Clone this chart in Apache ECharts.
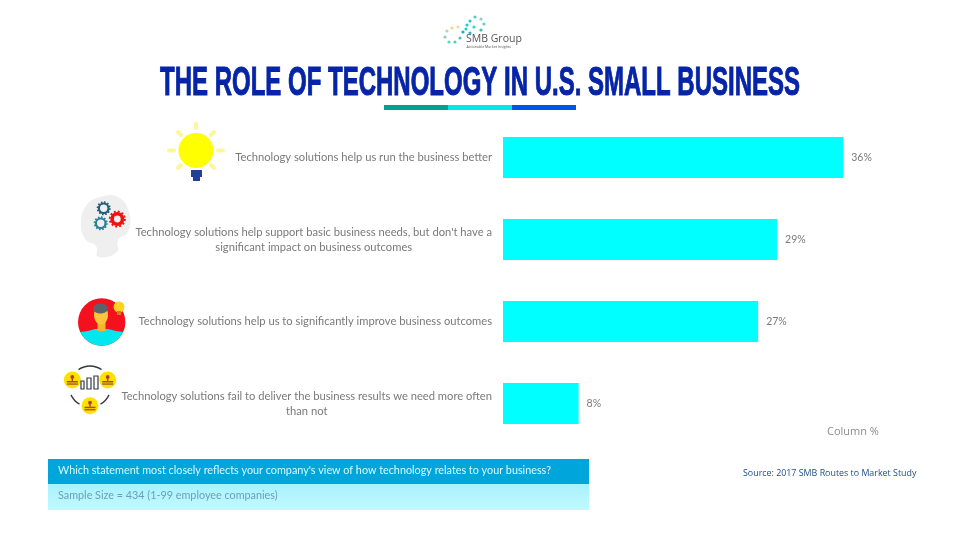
<!DOCTYPE html>
<html><head><meta charset="utf-8">
<style>html,body{margin:0;padding:0;background:#fff}#c{width:960px;height:540px}</style>
<script src="https://cdn.jsdelivr.net/npm/echarts@6/dist/echarts.min.js"></script>
</head><body><div id="c"></div>
<script>
const titleText = 'THE ROLE OF TECHNOLOGY IN U.S. SMALL BUSINESS';
const categories = [
  'Technology solutions help us run the business better',
  "Technology solutions help support basic business needs, but don't have a\nsignificant impact on business outcomes",
  'Technology solutions help us to significantly improve business outcomes',
  'Technology solutions fail to deliver the business results we need more often\nthan not'
];
const values = [36, 29, 27, 8];
const axisMax = 40;
const questionText = "Which statement most closely reflects your company's view of how technology relates to your business?";
const sampleText = 'Sample Size = 434 (1-99 employee companies)';
const sourceText = 'Source: 2017 SMB Routes to Market Study';
const columnText = 'Column %';

const chart = echarts.init(document.getElementById('c'), null, {renderer:'canvas'});
const g = [];
const circle = (cx,cy,r,fill,extra={}) => g.push({type:'circle',shape:{cx,cy,r},style:{fill,...extra},silent:true});
const ring = (cx,cy,r,stroke,lineWidth,lineDash) => g.push({type:'circle',shape:{cx,cy,r},style:{fill:'none',stroke,lineWidth,lineDash},silent:true});
const rect = (x,y,width,height,fill) => g.push({type:'rect',shape:{x,y,width,height},style:{fill},silent:true});
const line = (x1,y1,x2,y2,stroke,lineWidth) => g.push({type:'line',shape:{x1,y1,x2,y2},style:{stroke,lineWidth,lineCap:'round'},silent:true});
const arc = (cx,cy,r,a,b,stroke,lineWidth) => g.push({type:'arc',shape:{cx,cy,r,startAngle:a*Math.PI/180,endAngle:b*Math.PI/180,clockwise:true},style:{stroke,lineWidth,fill:'none'},silent:true});
const poly = (points,fill,smooth) => g.push({type:'polygon',shape:{points,smooth:smooth||0},style:{fill},silent:true});
const text = (x,y,t,font,fill,o={}) => g.push({type:'text',x,y,style:{text:t,font,fill,textAlign:o.align||'left',textVerticalAlign:'middle',stroke:o.stroke,lineWidth:o.lw||0},scaleX:o.sx||1,scaleY:o.sy||1,silent:true});

// title, squeezed to the condensed width of the original display face
const titleFont = 'bold 41px "Liberation Sans"';
const mc = document.createElement('canvas').getContext('2d');
mc.font = titleFont;
text(480,84,titleText,titleFont,'#0524a8',{align:'center',sx:640/mc.measureText(titleText).width,stroke:'#0524a8',lw:1});

// title underline
rect(384,105,64,5,'#00a096'); rect(448,105,64,5,'#00e8e8'); rect(512,105,64,5,'#0055e6');

// logo
const logoDots = [[475,17,'#55c8c8'],[481,19,'#88cccc'],[470,21,'#22cccc'],[484,24,'#66cccc'],[467,25,'#22cccc'],[481,30,'#44bbbb'],[463,32,'#22aacc'],[470,33,'#22bbcc'],[474,27,'#22dddd'],[452,28,'#dddd88'],[447,31,'#aaddaa'],[445,37,'#88ccbb'],[460,38,'#55bbcc'],[455,42,'#55ccbb'],[449,42,'#55ddbb'],[466,29,'#22cccc'],[458,27,'#eedd99']];
logoDots.forEach(d => circle(d[0],d[1],1.6,d[2]));
text(466,39,'SMB Group','10.5px "Open Sans"','#555555');
text(466.5,46.5,'Actionable Market Insights','3.6px "Open Sans"','#555555');

// bulb
[[196,124,196,128],[178,132,181,135],[214,132,211,135],[169,150.5,174,150.5],[218,150.5,223,150.5],[178,168,181,165],[214,168,211,165]].forEach(s=>line(s[0],s[1],s[2],s[3],'#fff59a',4));
circle(196,150.5,17.5,'#ffff00');
rect(191,170,11,7,'#22409a'); rect(193,177,7,4,'#22409a');

// head with gears
poly([[100,197],[118,197],[129,212],[128,232],[118,240],[117,252],[98,257],[96,246],[86,240],[81,224],[86,206]],'#efefef',0.45);
ring(103.7,208.3,4.8,'#245f78',2.2); ring(103.7,208.3,6.2,'#245f78',1.6,[1.6,1.6]);
ring(100.7,223.3,4.8,'#2f7f98',2.2); ring(100.7,223.3,6.2,'#2f7f98',1.6,[1.6,1.6]);
ring(117.3,219,5.2,'#ee1111',3.6); ring(117.3,219,7.6,'#ee1111',1.8,[2,2]);

// person
circle(101.7,322,23.7,'#f5101e');
{
  const pts=[]; for(let a=25;a<=155;a+=10){pts.push([101.7+23.7*Math.cos(a*Math.PI/180),322+23.7*Math.sin(a*Math.PI/180)]);}
  pts.push([88,331],[95,329],[108,329],[116,331]);
  poly(pts,'#00e8ee');
}
rect(97.5,322,8,9,'#f5b52e');
g.push({type:'ellipse',shape:{cx:101,cy:315,rx:7,ry:9.5},style:{fill:'#fcc53a'},silent:true});
g.push({type:'ellipse',shape:{cx:100.5,cy:308.5,rx:7.5,ry:5},style:{fill:'#5d6169'},silent:true});
circle(119,307,5.5,'#ffd21f'); rect(117,311,4,4,'#d97a1a');

// stamps icon
arc(90,386,20,-125,-55,'#333a44',1.3);
arc(90,386,21,25,60,'#333a44',1.3);
arc(90,386,21,120,155,'#333a44',1.3);
[[72.3,380],[107.7,380],[90,405.7]].forEach(p=>{
  circle(p[0],p[1],8.5,'#ffe100');
  circle(p[0],p[1]-3,1.9,'#c0392b');
  rect(p[0]-.7,p[1]-2,1.4,3,'#c0392b');
  rect(p[0]-5.5,p[1]+1,11,1.5,'#a0521a');
  rect(p[0]-5.5,p[1]+3.4,11,1.3,'#a0521a');
});
[[81,381,3,8],[87,378,4,11],[94,376,4,13]].forEach(b=>g.push({type:'rect',shape:{x:b[0],y:b[1],width:b[2],height:b[3]},style:{fill:'none',stroke:'#333a44',lineWidth:1.2},silent:true}));

// footer bands
rect(48,459,541,25,'#00a5dc');
g.push({type:'rect',shape:{x:48,y:484,width:541,height:26},style:{fill:new echarts.graphic.LinearGradient(0,0,0,1,[{offset:0,color:'#a6f3ff'},{offset:1,color:'#c4f8ff'}])},silent:true});
text(58,471,questionText,'10.8px Lato','#d8fbff');
text(58,495.5,sampleText,'10.8px Lato','#6e9fb4');
text(743,473.5,sourceText,'8.9px "Open Sans"','#1c4c8c');
text(827,432,columnText,'11px "Open Sans"','#8c8c8c');

const option = {
  animation:false,
  backgroundColor:'#ffffff',
  grid:{left:503,top:116.5,width:378,height:328,containLabel:false},
  xAxis:{type:'value',min:0,max:axisMax,show:false},
  yAxis:{type:'category',inverse:true,data:categories,
    axisLine:{show:false},axisTick:{show:false},
    axisLabel:{margin:11,align:'right',
      formatter:v=>v.split('\n').map(l=>'{c|'+l+'}').join('\n'),
      rich:{c:{align:'center',fontFamily:'Lato',fontSize:11.2,color:'#7a7a7a',lineHeight:15}}}},
  series:[{type:'bar',data:values,barWidth:41,itemStyle:{color:'#00ffff'},
    label:{show:true,position:'right',distance:8,formatter:'{c}%',fontFamily:'Lato',fontSize:10.5,color:'#7a7a7a'}}],
  graphic:{elements:g}
};
chart.setOption(option);
</script></body></html>
